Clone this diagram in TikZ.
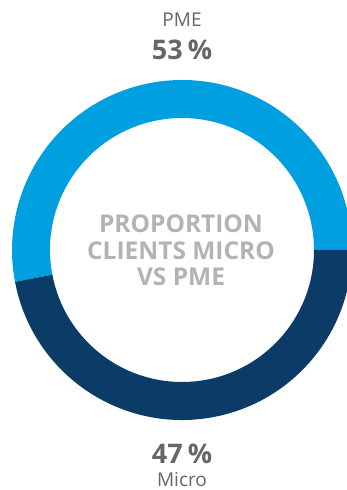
\documentclass[tikz,border=0pt]{standalone}
\usepackage{fontspec}
\setmainfont{Open Sans}
\definecolor{lightblue}{HTML}{009FDF}
\definecolor{darkblue}{HTML}{0B3C68}
\definecolor{labelgray}{HTML}{666666}
\definecolor{centergray}{HTML}{B3B3B3}
\begin{document}
\begin{tikzpicture}[x=1pt,y=1pt,
  lbl/.style={anchor=base,inner sep=0pt,text=labelgray,font=\fontsize{19}{19}\selectfont},
  pct/.style={anchor=base,inner sep=0pt,text=labelgray,font=\fontsize{27}{27}\selectfont\bfseries},
  ctr/.style={anchor=base,inner sep=0pt,text=centergray,font=\fontsize{24.5}{24.5}\selectfont\bfseries}]
\useasboundingbox (0,0) rectangle (347,490);
\coordinate (c) at (182,240);
\def\ro{170}
\def\ri{132}
\fill[lightblue] (c) ++(0:\ro) arc[start angle=0,end angle=190.8,radius=\ro]
  -- ++(10.8:{\ro-\ri}) arc[start angle=190.8,end angle=0,radius=\ri] -- cycle;
\fill[darkblue] (c) ++(190.8:\ro) arc[start angle=190.8,end angle=360,radius=\ro]
  -- ++(180:{\ro-\ri}) arc[start angle=360,end angle=190.8,radius=\ri] -- cycle;
\node[lbl] (pme) at (182,463) {PME};
\node[pct] (p53) at (182,430) {53\hspace{5pt}\%};
\node[pct] (p47) at (182,27) {47\hspace{5pt}\%};
\node[lbl] (micro) at (182,4) {Micro};
\node[ctr] (t1) at (181,257) {PROPORTION};
\node[ctr] (t2) at (181,230) {CLIENTS MICRO};
\node[ctr] (t3) at (181,204) {VS PME};
\end{tikzpicture}
\end{document}
